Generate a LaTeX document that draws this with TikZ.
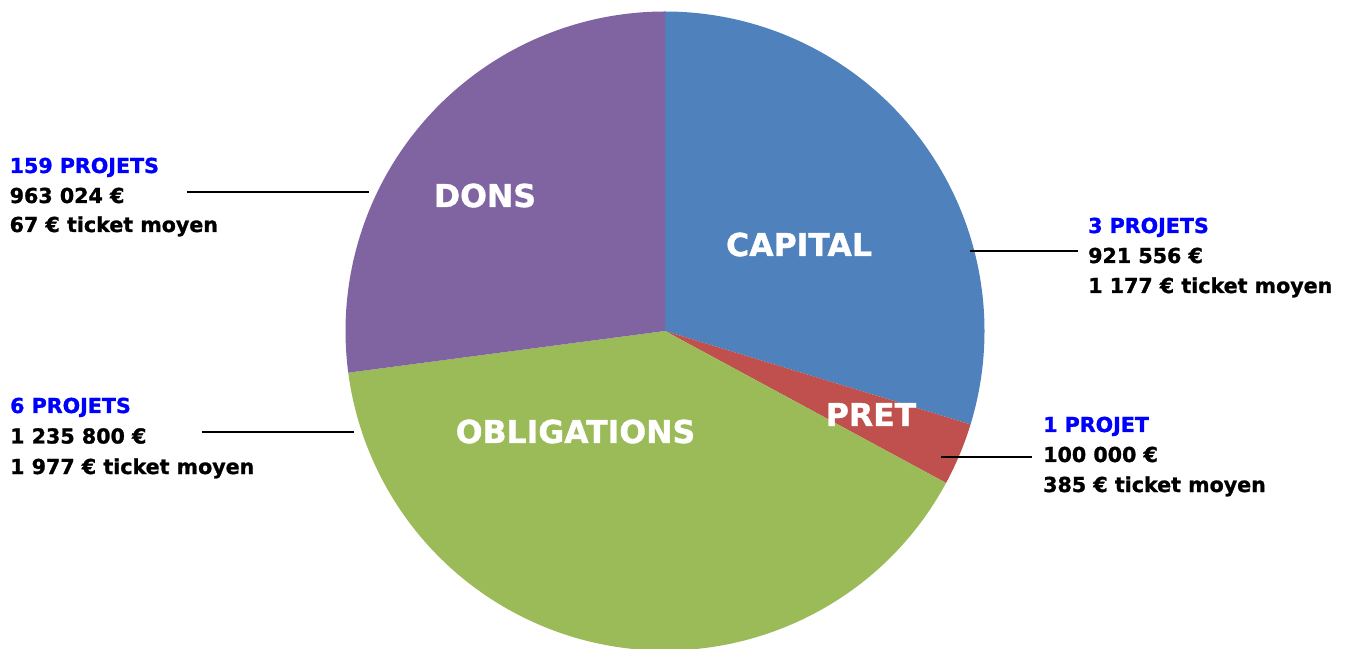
\documentclass[tikz,border=0pt]{standalone}
\usepackage{fontspec}
\setmainfont{DejaVu Sans}[BoldFeatures={FakeBold=1.2}]
\definecolor{capblue}{HTML}{4F81BD}
\definecolor{pretred}{HTML}{C0504D}
\definecolor{obgreen}{HTML}{9BBB59}
\definecolor{donpurple}{HTML}{8064A2}
\definecolor{projblue}{HTML}{0000FF}
\begin{document}
\begin{tikzpicture}[x=1pt,y=1pt,
  slicelabel/.style={text=white,font=\bfseries\fontsize{31.5}{36}\selectfont,inner sep=0pt,anchor=base},
  infotext/.style={text=black,font=\bfseries\fontsize{20.6}{30}\selectfont,inner sep=0pt,anchor=base west},
  projtext/.style={infotext,text=projblue},
  leader/.style={draw=black,line width=2pt}]
\useasboundingbox (0,0) rectangle (1348,648);
\def\R{319.5}
\coordinate (c) at (665,317);
% slices
\fill[capblue] (c) -- ++(90:\R) arc[start angle=90,end angle=-17,radius=\R] -- cycle;
\fill[pretred] (c) -- ++(-17:\R) arc[start angle=-17,end angle=-28.4,radius=\R] -- cycle;
\fill[obgreen] (c) -- ++(-28.4:\R) arc[start angle=-28.4,end angle=-172.5,radius=\R] -- cycle;
\fill[donpurple] (c) -- ++(-172.5:\R) arc[start angle=-172.5,end angle=-270,radius=\R] -- cycle;
% slice labels
\node[slicelabel] (lcap) at (799,392) {CAPITAL};
\node[slicelabel] (lpret) at (871,222) {PRET};
\node[slicelabel] (lobl) at (575.5,205) {OBLIGATIONS};
\node[slicelabel] (ldons) at (485,441) {DONS};
% capital info
\node[projtext] (cap1) at (1088,415) {3 PROJETS};
\node[infotext] (cap2) at (1088,385) {921 556 €};
\node[infotext] (cap3) at (1088,355) {1 177 € ticket moyen};
% pret info
\node[projtext] (pre1) at (1043,216) {1 PROJET};
\node[infotext] (pre2) at (1043,186) {100 000 €};
\node[infotext] (pre3) at (1043,156) {385 € ticket moyen};
% dons info
\node[projtext] (don1) at (9.5,475) {159 PROJETS};
\node[infotext] (don2) at (9.5,445) {963 024 €};
\node[infotext] (don3) at (9.5,416) {67 € ticket moyen};
% obligations info
\node[projtext] (obl1) at (10,235) {6 PROJETS};
\node[infotext] (obl2) at (10,204.5) {1 235 800 €};
\node[infotext] (obl3) at (10,174) {1 977 € ticket moyen};
% leader lines
\coordinate (capA) at (970,397.3);
\coordinate (capB) at (1078,397.3);
\coordinate (preA) at (940.7,190.7);
\coordinate (preB) at (1031.7,190.7);
\coordinate (donA) at (186.7,456.3);
\coordinate (donB) at (369.3,456.3);
\coordinate (oblA) at (201.7,216.3);
\coordinate (oblB) at (354,216.3);
\draw[leader] (capA) -- (capB);
\draw[leader] (preA) -- (preB);
\draw[leader] (donA) -- (donB);
\draw[leader] (oblA) -- (oblB);
\end{tikzpicture}
\end{document}
